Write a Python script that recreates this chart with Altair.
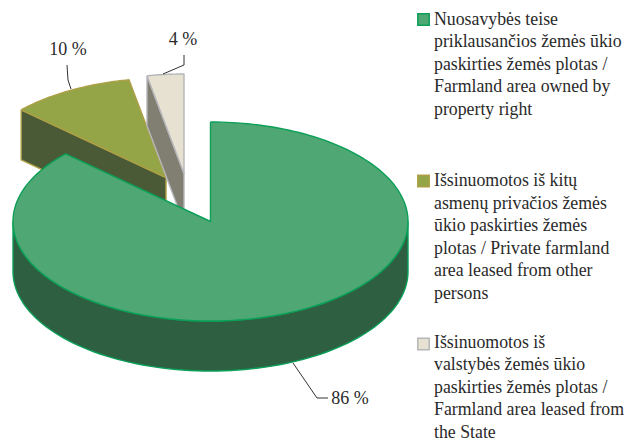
import math
import altair as alt
import pandas as pd

# ---- values ----
series = ["owned", "private", "state"]
wedge_shares = [86.9, 10.1, 3.0]          # angular share as drawn in the picture
value_labels = ["86 %", "10 %", "4 %"]
legend_lines = [
    ["Nuosavybės teise", "priklausančios žemės ūkio", "paskirties žemės plotas /",
     "Farmland  area owned by", "property right"],
    ["Išsinuomotos iš kitų", "asmenų privačios žemės", "ūkio paskirties žemės",
     "plotas / Private farmland", "area leased from other", "persons"],
    ["Išsinuomotos iš", "valstybės žemės ūkio", "paskirties žemės plotas /",
     "Farmland area leased from", "the State"],
]

# ---- styling and layout ----
top_fill = ["#4fa873", "#94a548", "#e6e1d1"]
wall_fill = ["#2d5f40", "#4a5a36", "#807f72"]
edge = ["#0b9f58", "#ad9f45", "#b5b6ba"]
CX, CY, RX, RY, DEPTH = 210.5, 221.5, 197.5, 99.5, 50.0
wedge_centres = [(CX, CY), (166.0, 177.5), (184.0, 173.5)]
legend_first_y = [19.5, 181.0, 342.5]
legend_swatch_y = [19.5, 181.0, 344.0]
LEGEND_X, SWATCH_X, LINE_STEP = 434, 423.5, 22.6
W, H = 618, 425
xs = alt.Scale(domain=[8, 8 + W], nice=False, zero=False)
ys = alt.Scale(domain=[8 + H, 8], nice=False, zero=False)
X = lambda f="x": alt.X(f"{f}:Q", scale=xs, axis=None)
Y = lambda f="y": alt.Y(f"{f}:Q", scale=ys, axis=None)


def pt(c, deg, dy=0.0):
    r = math.radians(deg)
    return c[0] + RX * math.sin(r), c[1] - RY * math.cos(r) + dy


def poly(points, fill, stroke, sw=1.4):
    pts = list(points) + [points[0]]
    df = pd.DataFrame({"x": [p[0] for p in pts], "y": [p[1] for p in pts], "i": range(len(pts))})
    return alt.Chart(df).mark_line(fill=fill, stroke=stroke, strokeWidth=sw, strokeJoin="round", clip=False).encode(
        x=X(), y=Y(), order="i:Q")


def leader(points):
    df = pd.DataFrame({"x": [p[0] for p in points], "y": [p[1] for p in points], "i": range(len(points))})
    return alt.Chart(df).mark_line(stroke="#333333", strokeWidth=1).encode(x=X(), y=Y(), order="i:Q")


# wedge angles
total = sum(wedge_shares)
angles = []
a = 0.0
for s in wedge_shares:
    b = a + s / total * 360
    angles.append((a, b))
    a = b

layers = []
# olive and grey wedges (back): wall along the cut edge, then the top
for i in (1, 2):
    c = wedge_centres[i]
    a0, a1 = angles[i]
    arc = [pt(c, a0 + (a1 - a0) * k / 40) for k in range(41)]
    wall = [arc[0], c, (c[0], c[1] + DEPTH), (arc[0][0], arc[0][1] + DEPTH)]
    layers.append(poly(wall, wall_fill[i], edge[i]))
    layers.append(poly(arc + [c], top_fill[i], edge[i]))

# green wedge: front wall and top
c = wedge_centres[0]
a0, a1 = angles[0]
upper = [pt(c, 90 + k * 2) for k in range(91)]
lower = [pt(c, 270 - k * 2, DEPTH) for k in range(91)]
layers.append(poly(upper + lower, wall_fill[0], edge[0]))
arc = [pt(c, a0 + (a1 - a0) * k / 200) for k in range(201)]
layers.append(poly(arc + [c], top_fill[0], edge[0]))

# leader lines
layers.append(leader([(67, 65), (68, 80), (71, 89)]))
layers.append(leader([(184, 55), (184, 65), (163, 74)]))
layers.append(leader([(293, 363), (317, 398), (328, 398)]))

# value labels
lab = pd.DataFrame({"x": [350, 68, 183], "y": [399, 50, 40], "t": value_labels})
layers.append(alt.Chart(lab).mark_text(font="Liberation Serif", fontSize=18, color="#2a2a2a").encode(
    x=X(), y=Y(), text="t:N"))

# legend swatches
sw = pd.DataFrame({"s": series, "x": [SWATCH_X] * 3, "y": legend_swatch_y})
for i in range(3):
    layers.append(alt.Chart(sw.iloc[[i]]).mark_point(
        shape="square", filled=True, size=130, fill=top_fill[i], stroke=edge[i], strokeWidth=1.5, opacity=1
    ).encode(x=X(), y=Y()))

# legend text
rows = []
for first, lines in zip(legend_first_y, legend_lines):
    for j, t in enumerate(lines):
        rows.append({"x": LEGEND_X, "y": first + j * LINE_STEP, "t": t})
layers.append(alt.Chart(pd.DataFrame(rows)).mark_text(
    font="Liberation Serif", fontSize=17.8, color="#2a2a2a", align="left", baseline="middle"
).encode(x=X(), y=Y(), text="t:N"))

chart = alt.layer(*layers).properties(width=W, height=H, padding=0).configure_view(stroke=None)
chart.save("out.html", embed_options={"renderer": "svg", "actions": False})
